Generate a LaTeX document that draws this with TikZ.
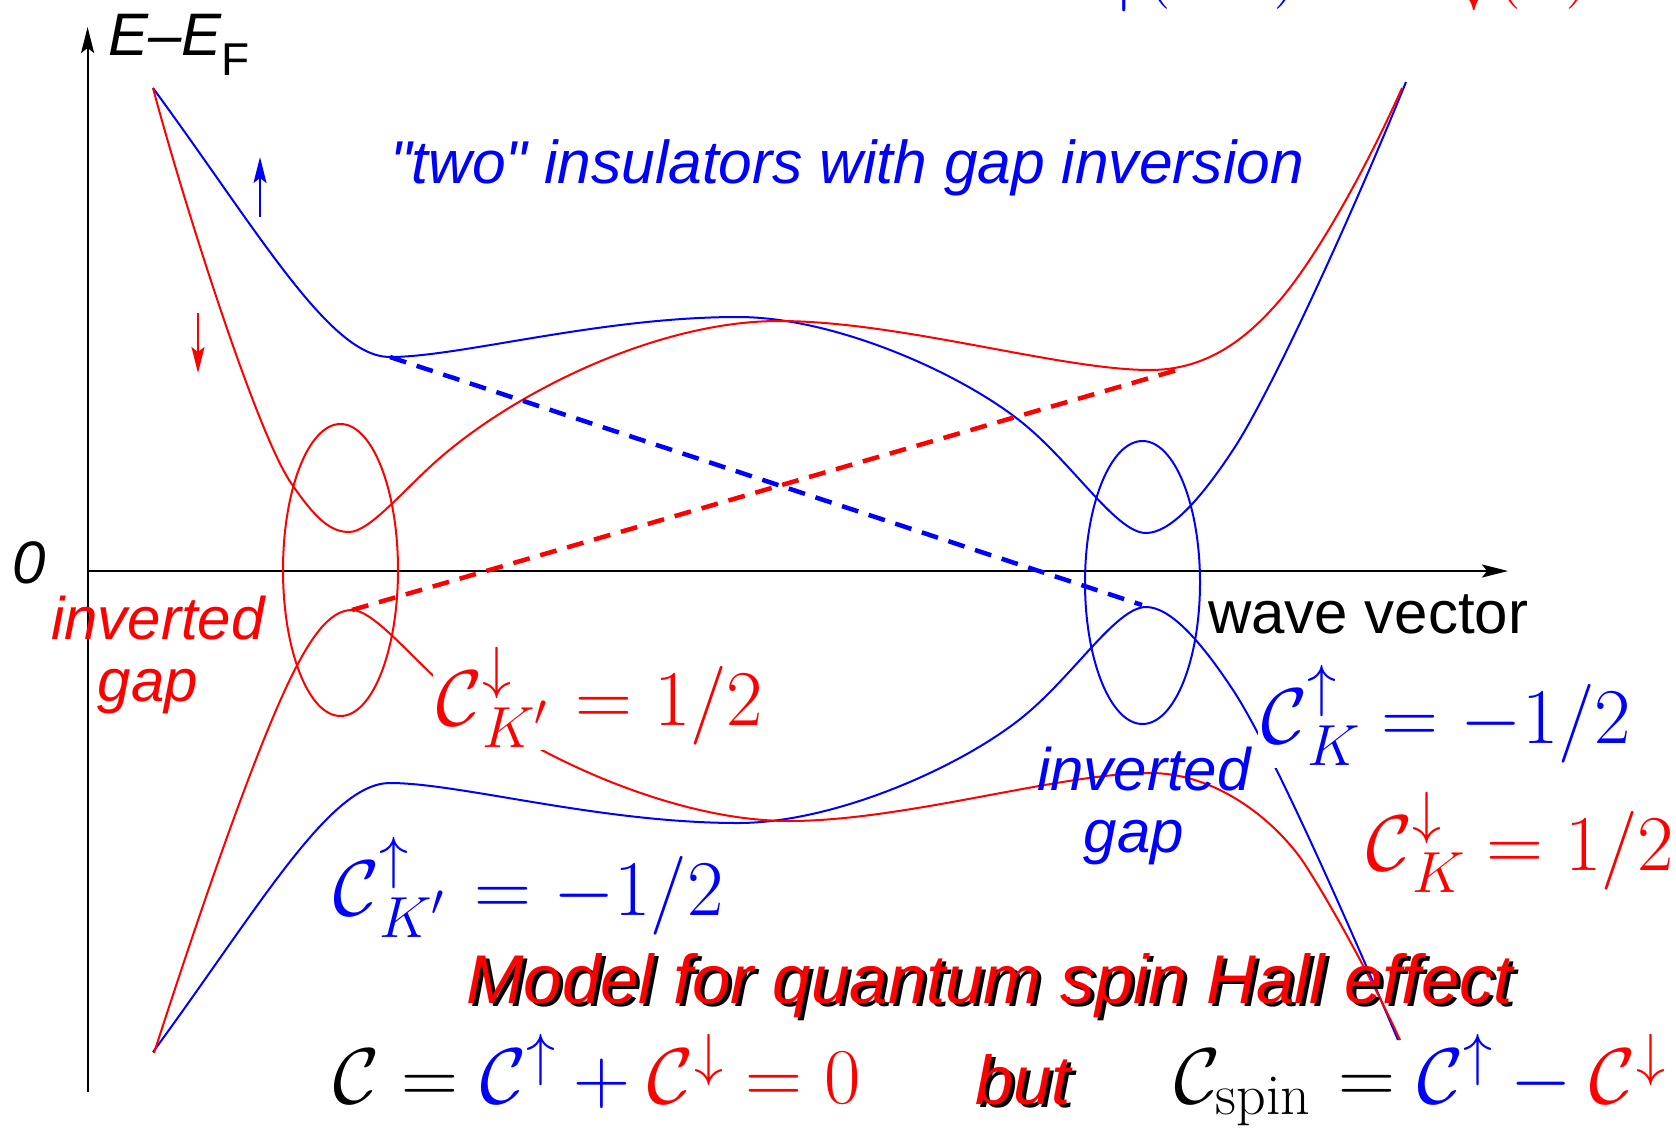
\documentclass[tikz,border=0pt]{standalone}
\usepackage{fix-cm}
\usepackage{fontspec}
\newfontfamily\hv{Liberation Sans}
\usetikzlibrary{arrows.meta}
\newcommand\fsz[1]{\fontsize{#1}{#1}\selectfont}
\DeclareMathSizes{79}{79}{58}{44}
% Chern symbol with manually placed super- and subscript
\newcommand\chern[2]{\mathcal{C}\rlap{\raise38pt\hbox{$\scriptstyle#1$}}\lower22pt\hbox{$\scriptstyle#2$}}
\begin{document}
\begin{tikzpicture}[x=1pt,y=-1pt,
  band/.style={line width=2pt},
  gapline/.style={line width=4.5pt, dash pattern=on 17pt off 11pt},
  axis/.style={line width=2pt, -{Stealth[length=26pt,width=13pt,inset=5pt]}},
  spinarrow/.style={line width=2pt, -{Stealth[length=26pt,width=13pt,inset=5pt]}},
  sans/.style={font=\hv\itshape\fsz{60}, inner sep=0pt},
  sansup/.style={font=\hv\fsz{60}, inner sep=0pt},
  bigsans/.style={font=\hv\itshape\fsz{69}, inner sep=0pt},
  mathlab/.style={font=\fsz{79}, inner sep=0pt},
  coverlab/.style={mathlab, fill=white, inner sep=3pt}]
\useasboundingbox (0,0) rectangle (1676,1128);
\fill[white] (0,0) rectangle (1676,1128);

% axes
\coordinate (yb) at (87.6,1092);
\coordinate (yt) at (87.6,27);
\coordinate (xl) at (87.6,571);
\coordinate (xr) at (1508,571);
\draw[axis] (yb) -- (yt);
\draw[axis] (xl) -- (xr);

% bands
\draw[band, blue] (153,88) .. controls (260,234) and (330,357) .. (390,357)
  .. controls (460,357) and (600,317) .. (738,317)
  .. controls (830,317) and (950,368) .. (1015,417)
  .. controls (1070,458) and (1115,533) .. (1146,533)
  .. controls (1170,533) and (1200,500) .. (1233,450)
  .. controls (1270,394) and (1350,220) .. (1406,82);
\draw[band, blue] (153,1052) .. controls (260,906) and (330,783) .. (390,783)
  .. controls (460,783) and (600,823) .. (738,823)
  .. controls (830,823) and (950,772) .. (1015,723)
  .. controls (1070,682) and (1115,607) .. (1146,607)
  .. controls (1170,607) and (1200,640) .. (1233,690)
  .. controls (1270,746) and (1345,915) .. (1398,1040);
\draw[band, red] (153,88) .. controls (180,190) and (255,430) .. (291,483)
  .. controls (315,518) and (330,532) .. (349,532)
  .. controls (370,532) and (405,488) .. (441,457)
  .. controls (520,389) and (660,321) .. (779,321)
  .. controls (900,321) and (1060,370) .. (1150,370)
  .. controls (1210,370) and (1250,335) .. (1280,300)
  .. controls (1320,253) and (1370,160) .. (1402,88);
\draw[band, red] (154,1053) .. controls (210,880) and (255,755) .. (285,690)
  .. controls (310,636) and (330,610) .. (352,610)
  .. controls (372,610) and (407,652) .. (441,683)
  .. controls (520,751) and (670,821) .. (789,821)
  .. controls (905,821) and (1060,773) .. (1150,773)
  .. controls (1215,773) and (1272,818) .. (1302,860)
  .. controls (1330,902) and (1375,985) .. (1400,1040);

% dashed crossing lines
\coordinate (bd0) at (390,357);
\coordinate (bd1) at (1142,605);
\coordinate (rd0) at (352,610);
\coordinate (rd1) at (1184,368);
\draw[gapline, blue] (bd0) -- (bd1);
\draw[gapline, red] (rd0) -- (rd1);

% ellipses
\draw[band, red] (340.5,570) ellipse [x radius=57.5pt, y radius=146pt];
\draw[band, blue] (1142.5,582.5) ellipse [x radius=57.5pt, y radius=141.5pt];

% spin arrows
\coordinate (bua0) at (260,217);
\coordinate (bua1) at (260,157);
\coordinate (rda0) at (198,313);
\coordinate (rda1) at (198,373);
\draw[spinarrow, blue] (bua0) -- (bua1);
\draw[spinarrow, red] (rda0) -- (rda1);

% axis labels
\node[sans, anchor=base west] (elab) at (108,55) {E–E\raisebox{-20pt}{\upshape\fsz{46}F}};
\node[sans, anchor=base west] (zero) at (12,583) {0};
\node[sansup, anchor=base west] (wv) at (1208,633) {wave vector};

% title
\node[sans, font=\hv\itshape\fsz{60.5}, text=blue, anchor=base west] (title) at (390,183) {"two" insulators with gap inversion};

% inverted gap labels
\node[sans, text=red, anchor=base] (igr1) at (158,639) {inverted};
\node[sans, text=red, anchor=base] (igr2) at (148,701) {gap};
\node[sans, text=blue, anchor=base] (igb1) at (1144,790) {inverted};
\node[sans, text=blue, anchor=base] (igb2) at (1134,852) {gap};

% Chern labels
\node[coverlab, text=red, anchor=base west] (ckpd) at (433,725) {$\chern{\downarrow}{K'}\hskip6pt=1/2$};
\node[coverlab, text=blue, anchor=base west] (cku) at (1258,743) {$\chern{\uparrow}{K}=-1/2$};
\node[mathlab, text=red, anchor=base west] (ckd) at (1366,870) {$\chern{\downarrow}{K}=1/2$};
\node[mathlab, text=blue, anchor=base west] (ckpu) at (333,915) {$\chern{\uparrow}{K'}\hskip8pt=-1/2$};

% model text with shadow
\node[bigsans, text=black, anchor=base west] (models) at (470,1006) {Model for quantum spin Hall effect};
\node[bigsans, text=red, anchor=base west] (model) at (466,1003) {Model for quantum spin Hall effect};

% bottom equations
\node[mathlab, anchor=base west] (csum) at (333,1103) {$\mathcal{C}=\textcolor{blue}{\mathcal{C}^{\uparrow}}\mathbin{\textcolor{blue}{+}}\textcolor{red}{\mathcal{C}^{\downarrow}}\mathrel{\textcolor{red}{=}}\textcolor{red}{0}$};
\node[bigsans, text=black, anchor=base west] (buts) at (979,1107) {but};
\node[bigsans, text=red, anchor=base west] (but) at (975,1104) {but};
\node[mathlab, anchor=base west] (cspin) at (1174,1103) {$\mathcal{C}_{\mathrm{spin}}\hskip6pt=\textcolor{blue}{\mathcal{C}^{\uparrow}}\mathbin{\textcolor{blue}{-}}\textcolor{red}{\mathcal{C}^{\downarrow}}$};

% cut-off fragments at top edge
\node[mathlab, text=blue, anchor=base west] (topb) at (1104,-11) {$\lower7pt\hbox{$\uparrow$}(\hskip102pt)$};
\node[mathlab, text=red, anchor=base west] (topr) at (1454,-11) {$\lower6pt\hbox{$\downarrow$}(\hskip44pt)$};
\end{tikzpicture}
\end{document}
